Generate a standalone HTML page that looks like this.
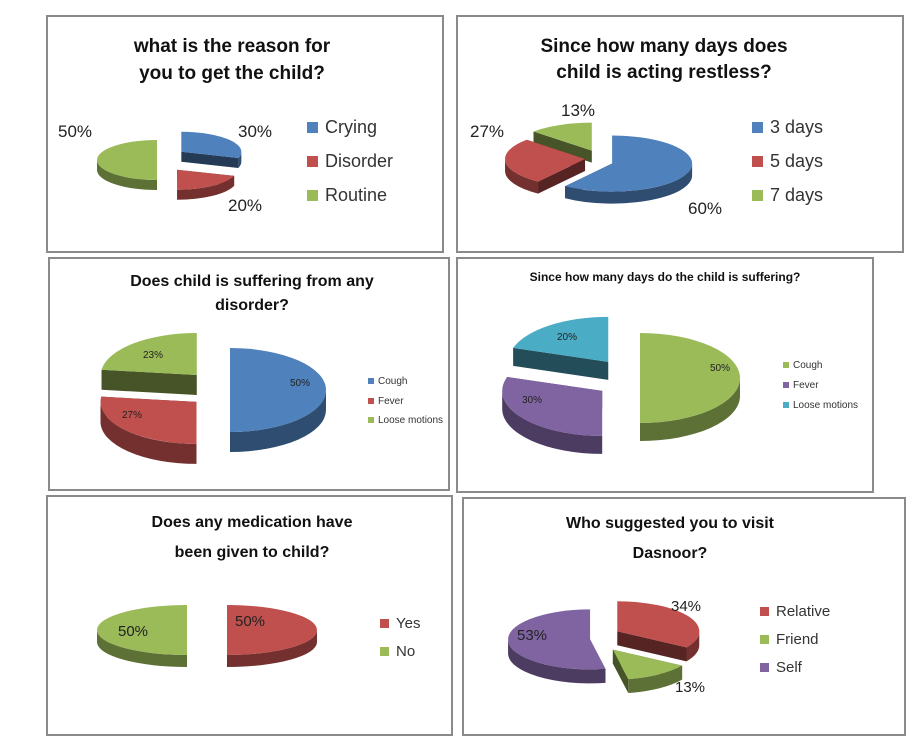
<!DOCTYPE html>
<html><head><meta charset="utf-8"><style>
html,body{margin:0;padding:0;background:#fff;}
svg{display:block;font-family:"Liberation Sans",sans-serif;}
</style></head><body>
<svg id="c" width="924" height="756" viewBox="0 0 924 756" xmlns="http://www.w3.org/2000/svg"></svg>
<script>
// ---- data ----
const c1Categories=["Crying","Disorder","Routine"];
const c1Values=[30,20,50];
const c2Categories=["3 days","5 days","7 days"];
const c2Values=[60,27,13];
const c3Categories=["Cough","Fever","Loose motions"];
const c3Values=[50,27,23];
const c4Categories=["Cough","Fever","Loose motions"];
const c4Values=[50,30,20];
const c5Categories=["Yes","No"];
const c5Values=[50,50];
const c6Categories=["Relative","Friend","Self"];
const c6Values=[34,13,53];

const BLUE="#4F81BD",RED="#C0504D",GREEN="#9BBB59",PURPLE="#8064A2",CYAN="#4BACC6";
const NS="http://www.w3.org/2000/svg";
const svg=document.getElementById('c');
function mk(tag,attrs,parent){const e=document.createElementNS(NS,tag);for(const k in attrs)e.setAttribute(k,attrs[k]);(parent||svg).appendChild(e);return e;}
function dark(hex,f){const n=parseInt(hex.slice(1),16);const r=Math.round(((n>>16)&255)*f),g=Math.round(((n>>8)&255)*f),b=Math.round((n&255)*f);return `rgb(${r},${g},${b})`;}

const charts=[
 {cats:c1Categories,vals:c1Values,colors:[BLUE,RED,GREEN],box:[47,16,396,236],title:["what is the reason for","you to get the child?"],tx:232,ty:[52,79],tfs:19,
  cx:170,cy:160,rx:60,ry:20,d:10,ex:[14,12,13],lbl:[[255,137],[245,211],[75,137]],lfs:17,lgx:307,lgy:[133,167,201],lgfs:18,sq:11},
 {cats:c2Categories,vals:c2Values,colors:[BLUE,RED,GREEN],box:[457,16,446,236],title:["Since how many days does","child is acting restless?"],tx:664,ty:[52,78],tfs:19,
  cx:595,cy:158,rx:80,ry:28,d:12,ex:[18,10,8],lbl:[[705,214],[487,137],[578,116]],lfs:17,lgx:752,lgy:[133,167,201],lgfs:18,sq:11},
 {cats:c3Categories,vals:c3Values,colors:[BLUE,RED,GREEN],box:[49,258,400,232],title:["Does child is suffering from any","disorder?"],tx:252,ty:[286,310],tfs:16,
  cx:210,cy:390,rx:96,ry:42,d:20,ex:[20,18,20],lbl:[[300,386],[132,418],[153,358]],lfs:10,lgx:368,lgy:[384,404,423],lgfs:10,sq:6},
 {cats:c4Categories,vals:c4Values,colors:[GREEN,PURPLE,CYAN],box:[457,258,416,234],title:["Since how many days do the child is suffering?"],tx:665,ty:[281],tfs:12,
  cx:620,cy:378,rx:100,ry:45,d:18,ex:[20,22,20],lbl:[[720,371],[532,403],[567,340]],lfs:10,lgx:783,lgy:[368,388,408],lgfs:10,sq:6},
 {cats:c5Categories,vals:c5Values,colors:[RED,GREEN],box:[47,496,405,239],title:["Does any medication have","been given to child?"],tx:252,ty:[527,557],tfs:16,
  cx:207,cy:630,rx:90,ry:25,d:12,ex:[20,20],lbl:[[250,626],[133,636]],lfs:15,lgx:380,lgy:[628,656],lgfs:15,sq:9},
 {cats:c6Categories,vals:c6Values,colors:[RED,GREEN,PURPLE],box:[463,498,442,237],title:["Who suggested you to visit","Dasnoor?"],tx:670,ty:[528,558],tfs:16,
  cx:605,cy:638,rx:82,ry:30,d:14,ex:[14,14,15],lbl:[[686,611],[690,692],[532,640]],lfs:15,lgx:760,lgy:[616,644,672],lgfs:15,sq:9}
];

function drawChart(ch,ci){
  const g=mk('g',{});
  
  
  const [bx,by,bw,bh]=ch.box;
  const fr=mk('rect',{x:bx,y:by,width:bw,height:bh,fill:'#fff',stroke:'#8a8a8a','stroke-width':2},g);
  
  
  ch.title.forEach((t,i)=>{
    const te=mk('text',{x:ch.tx,y:ch.ty[i],'text-anchor':'middle','font-size':ch.tfs,'font-weight':'bold',fill:'#111'},g);
    te.textContent=t;
    
    
  });
  const total=ch.vals.reduce((a,b)=>a+b,0);
  let a=-Math.PI/2;
  const sl=[];
  ch.vals.forEach((v,i)=>{
    const sw=v/total*2*Math.PI;const a0=a,a1=a+sw;a=a1;
    const mid=(a0+a1)/2;
    const cx=ch.cx+ch.ex[i]*Math.cos(mid),cy=ch.cy+ch.ex[i]*Math.sin(mid);
    sl.push({a0,a1,cx,cy,col:ch.colors[i],i});
  });
  const P=(s,t)=>[s.cx+ch.rx*Math.cos(t),s.cy+ch.ry*Math.sin(t)];
  const pg=mk('g',{},g);
  
  
  // sides (back to front)
  const order=[...sl].sort((p,q)=>Math.sin((p.a0+p.a1)/2)-Math.sin((q.a0+q.a1)/2));
  order.forEach(s=>{
    const d=ch.d;
    [s.a0,s.a1].forEach(t=>{
      const p=P(s,t);
      const f=mk('polygon',{points:`${s.cx},${s.cy} ${p[0]},${p[1]} ${p[0]},${p[1]+d} ${s.cx},${s.cy+d}`,fill:dark(s.col,0.45)},pg);
      
      
    });
    // outer rim front part: intersect [a0,a1] with [2πk, 2πk+π]
    for(let k=-1;k<=2;k++){
      const lo=Math.max(s.a0,2*Math.PI*k),hi=Math.min(s.a1,2*Math.PI*k+Math.PI);
      if(hi>lo+1e-4){
        const p0=P(s,lo),p1=P(s,hi);const lg=(hi-lo)>Math.PI?1:0;
        const r=mk('path',{d:`M${p0[0]},${p0[1]} A${ch.rx},${ch.ry} 0 ${lg} 1 ${p1[0]},${p1[1]} L${p1[0]},${p1[1]+d} A${ch.rx},${ch.ry} 0 ${lg} 0 ${p0[0]},${p0[1]+d} Z`,fill:dark(s.col,0.6)},pg);
        
        
      }
    }
  });
  sl.forEach(s=>{
    const p0=P(s,s.a0),p1=P(s,s.a1);const lg=(s.a1-s.a0)>Math.PI?1:0;
    const t=mk('path',{d:`M${s.cx},${s.cy} L${p0[0]},${p0[1]} A${ch.rx},${ch.ry} 0 ${lg} 1 ${p1[0]},${p1[1]} Z`,fill:s.col},pg);
    
    
  });
  ch.vals.forEach((v,i)=>{
    const l=mk('text',{x:ch.lbl[i][0],y:ch.lbl[i][1],'text-anchor':'middle','font-size':ch.lfs,fill:'#222'},g);
    l.textContent=v+'%';
    
    
  });
  ch.cats.forEach((c,i)=>{
    const y=ch.lgy[i];
    const lg=mk('g',{},g);
    
    
    mk('rect',{x:ch.lgx,y:y-ch.sq,width:ch.sq,height:ch.sq,fill:ch.colors[i]},lg);
    const t=mk('text',{x:ch.lgx+ch.sq+(ch.sq>8?7:4),y:y,'font-size':ch.lgfs,fill:'#333'},lg);
    t.textContent=c;
  });
}
charts.forEach(drawChart);
</script>
</body></html>
